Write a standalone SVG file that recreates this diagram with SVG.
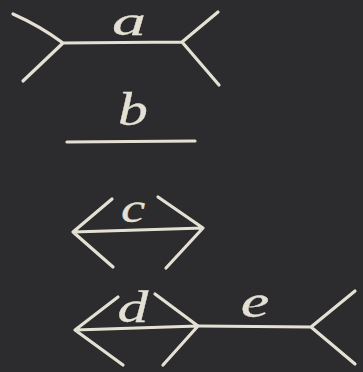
<svg xmlns="http://www.w3.org/2000/svg" width="363" height="372" viewBox="0 0 363 372">
<style>
.ch{fill:none;stroke:#e4e1d4;stroke-width:3.2;stroke-linecap:round;stroke-linejoin:round}
.lb{font-family:"Liberation Serif",serif;font-style:italic;fill:#e4e1d4;stroke:#e4e1d4;stroke-width:0.3;text-anchor:middle}
</style>
<rect width="363" height="372" fill="#2c2b2d"/>
<g id="fig-a">
<path class="ch" d="M13,14 Q40,26 63,43 L182,42 L218,12 M63,43 L23,81 M182,42 L219,85"/>
<text class="lb" transform="translate(129,35) scale(1.7,1)" font-size="40">a</text>
</g>
<g id="fig-b">
<path class="ch" d="M67,142 L195,141"/>
<text class="lb" transform="translate(133,125) scale(1.3,1)" font-size="46">b</text>
</g>
<g id="fig-c">
<path class="ch" d="M112,199 L73,232 L113,267 M73,232 L203,228 M158,197 L203,228 L166,268"/>
<text class="lb" transform="translate(133,222) scale(1.3,1)" font-size="42">c</text>
</g>
<g id="fig-d">
<path class="ch" d="M118,297 L75,330 L123,365 M75,330 L198,326 M155,294 L198,326 L163,365"/>
<text class="lb" transform="translate(133,322) scale(1.4,1)" font-size="44">d</text>
</g>
<g id="fig-e">
<path class="ch" d="M198,326 L311,327 L355,291 M311,327 L355,364"/>
<text class="lb" transform="translate(255,317) scale(1.4,1)" font-size="46">e</text>
</g>
</svg>
